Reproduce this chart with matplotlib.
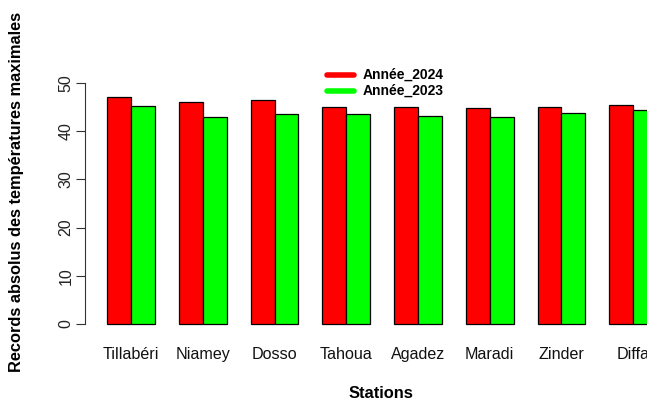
import numpy as np
import matplotlib
matplotlib.use('Agg')
import matplotlib.pyplot as plt

# data
stations = ['Tillabéri', 'Niamey', 'Dosso', 'Tahoua', 'Agadez', 'Maradi', 'Zinder', 'Diffa']
tmax_2024 = [47.1, 46.1, 46.5, 45.1, 45.0, 44.7, 45.0, 45.4]
tmax_2023 = [45.2, 43.0, 43.6, 43.5, 43.1, 42.9, 43.8, 44.3]
yticks = [0, 10, 20, 30, 40, 50]

plt.rcParams['font.family'] = ['Liberation Sans', 'DejaVu Sans']

W, H = 647, 401
fig = plt.figure(figsize=(W / 100, H / 100), dpi=100)
# axes laid out like an R barplot (bar width 1, one unit gap between groups)
left_px, right_px = 85.3, 679.0
bot_px, top_px = 333.6, 54.0
ax = fig.add_axes([left_px / W, 1 - bot_px / H, (right_px - left_px) / W, (bot_px - top_px) / H])
ax.set_xlim(0.08, 24.92)
ax.set_ylim(-2, 56)

n = len(stations)
x_red = 1 + 3 * np.arange(n)
ax.bar(x_red, tmax_2024, width=1, align='edge', color='#ff0000', edgecolor='black', linewidth=0.9)
ax.bar(x_red + 1, tmax_2023, width=1, align='edge', color='#00ff00', edgecolor='black', linewidth=0.9)

for s in ['top', 'right', 'bottom']:
    ax.spines[s].set_visible(False)
ax.spines['left'].set_bounds(0, 50)
ax.spines['left'].set_color('#333333')
ax.set_yticks(yticks)
ax.set_yticklabels([str(v) for v in yticks], rotation=90, va='center', fontsize=11.5, color='#222222')
ax.tick_params(axis='y', length=6.5, width=0.8, pad=2, color='#333333')

# station names centred under each pair of bars
ax.set_xticks(x_red + 1)
ax.set_xticklabels(stations, fontsize=11.6, color='#111111')
ax.tick_params(axis='x', length=0, pad=10)

# legend drawn by hand (no frame)
for y_px, col, lab in [(75, '#ff0000', 'Année_2024'), (90.5, '#00ff00', 'Année_2023')]:
    fy = 1 - y_px / H
    fig.add_artist(plt.Line2D([327 / W, 354 / W], [fy, fy], color=col, linewidth=4, solid_capstyle='round'))
    fig.text(363 / W, fy, lab, fontsize=10, fontweight='bold', va='center', ha='left')

fig.text(17 / W, 1 - 192 / H, 'Records absolus des températures maximales', rotation=90,
         fontsize=11.8, fontweight='bold', va='center', ha='center')
fig.text(381 / W, 1 - 394 / H, 'Stations', fontsize=11.9, fontweight='bold', va='center', ha='center')

fig.savefig('out.png', dpi=100)
